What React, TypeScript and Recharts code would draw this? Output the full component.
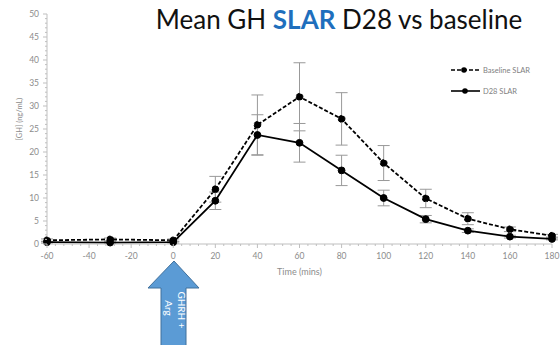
import { CartesianGrid, ErrorBar, Legend, Line, LineChart, XAxis, YAxis } from 'recharts';

const times = [-60, -30, 0, 20, 40, 60, 80, 100, 120, 140, 160, 180];
const baseline = [0.8, 1.0, 0.8, 11.9, 25.9, 32.0, 27.2, 17.6, 9.9, 5.5, 3.2, 1.8];
const baselineErr = [0.3, 0.3, 0.3, 2.8, 6.5, 7.4, 5.7, 3.8, 2.0, 1.3, 0.5, 0.3];
const d28 = [0.4, 0.3, 0.4, 9.4, 23.7, 22.0, 16.0, 10.0, 5.4, 2.9, 1.6, 1.1];
const d28Err = [0.2, 0.2, 0.2, 1.9, 4.4, 4.2, 3.3, 1.7, 0.8, 0.4, 0.3, 0.2];

const xMajor = [-60, -40, -20, 0, 20, 40, 60, 80, 100, 120, 140, 160, 180];
const yMajor = [0, 5, 10, 15, 20, 25, 30, 35, 40, 45, 50];

// minor ticks: 5 steps between x majors, 5 steps between y majors
const xTicks = xMajor.flatMap((v, i) => (i === 0 ? [v] : [1, 2, 3, 4, 5].map((k) => xMajor[i - 1] + k * 4)));
const yTicks = yMajor.flatMap((v, i) => (i === 0 ? [v] : [1, 2, 3, 4, 5].map((k) => yMajor[i - 1] + k)));

const data = times.map((t, i) => ({
  time: t,
  baseline: baseline[i],
  baselineErr: baselineErr[i],
  d28: d28[i],
  d28Err: d28Err[i],
}));

const AXIS = '#bfbfbf';
const TICK_TEXT = '#8c8c8c';
const FONT = 'Lato, "Open Sans", sans-serif';

const XTick = (props: any) => {
  const { x, y, payload } = props;
  const major = payload.value % 20 === 0;
  return (
    <g>
      <line x1={x} x2={x} y1={y} y2={y + (major ? 4 : 2)} stroke={AXIS} />
      {major && (
        <text x={x} y={y + 15} textAnchor="middle" fontSize={8.5} fill={TICK_TEXT} fontFamily={FONT}>
          {payload.value}
        </text>
      )}
    </g>
  );
};

const YTick = (props: any) => {
  const { x, y, payload } = props;
  const major = payload.value % 5 === 0;
  return (
    <g>
      <line x1={x - (major ? 4 : 2)} x2={x} y1={y} y2={y} stroke={AXIS} />
      {major && (
        <text x={x - 8} y={y + 3} textAnchor="end" fontSize={8.5} fill={TICK_TEXT} fontFamily={FONT}>
          {payload.value}
        </text>
      )}
    </g>
  );
};

const renderLegend = () => (
  <svg width={110} height={40}>
    <line x1={6} x2={35} y1={10} y2={10} stroke="#000" strokeWidth={1.6} strokeDasharray="4 2" />
    <circle cx={19} cy={10} r={2.8} fill="#000" />
    <text x={38} y={12.5} fontSize={7.5} fill="#7f7f7f" fontFamily={FONT}>Baseline SLAR</text>
    <line x1={6} x2={35} y1={31} y2={31} stroke="#000" strokeWidth={1.6} />
    <circle cx={20} cy={31} r={2.8} fill="#000" />
    <text x={38} y={33.5} fontSize={7.5} fill="#7f7f7f" fontFamily={FONT}>D28 SLAR</text>
  </svg>
);

export default function App() {
  return (
    <div style={{ position: 'absolute', left: 0, top: 0, width: 560, height: 345, background: '#fff', overflow: 'hidden' }}>
      <LineChart width={560} height={345} data={data} margin={{ top: 14, right: 8, bottom: 71, left: 0 }}>
        <CartesianGrid stroke="none" />
        <XAxis
          dataKey="time"
          type="number"
          domain={[-60, 180]}
          ticks={xTicks}
          interval={0}
          tickLine={false}
          tickSize={0}
          tickMargin={0}
          axisLine={{ stroke: AXIS }}
          tick={XTick}
          height={30}
          label={{ value: 'Time (mins)', position: 'insideBottom', offset: -1, fontSize: 9, fill: TICK_TEXT, fontFamily: FONT }}
        />
        <YAxis
          type="number"
          domain={[0, 50]}
          ticks={yTicks}
          interval={0}
          tickLine={false}
          tickSize={0}
          tickMargin={0}
          axisLine={{ stroke: AXIS }}
          tick={YTick}
          width={47}
        />
        <Legend
          layout="vertical"
          align="center"
          verticalAlign="middle"
          content={renderLegend}
          wrapperStyle={{ left: 445, top: 60, width: 110, height: 40 }}
        />
        <Line
          dataKey="baseline"
          stroke="#000"
          strokeWidth={1.8}
          strokeDasharray="4 2"
          dot={{ r: 3.4, fill: '#000', stroke: '#000', strokeWidth: 1 }}
          isAnimationActive={false}
        >
          <ErrorBar dataKey="baselineErr" width={6} stroke="#999" strokeWidth={1} direction="y" />
        </Line>
        <Line
          dataKey="d28"
          stroke="#000"
          strokeWidth={1.8}
          dot={{ r: 3.4, fill: '#000', stroke: '#000', strokeWidth: 1 }}
          isAnimationActive={false}
        >
          <ErrorBar dataKey="d28Err" width={6} stroke="#999" strokeWidth={1} direction="y" />
        </Line>
      </LineChart>
      <svg width={560} height={345} style={{ position: 'absolute', left: 0, top: 0, pointerEvents: 'none' }}>
        <text x={339} y={29} textAnchor="middle" fontSize={26} fontFamily={FONT} fill="#111">
          Mean GH <tspan fill="#1f6fbd" fontWeight="bold">SLAR</tspan> D28 vs baseline
        </text>
        <text
          transform="translate(22,119) rotate(-90)"
          textAnchor="middle"
          fontSize={7.5}
          fill={TICK_TEXT}
          fontFamily={FONT}
        >
          [GH] (ng/mL)
        </text>
        <polygon
          points="174,261 148,288 161,288 161,346 186,346 186,288 199,288"
          fill="#5b9bd5"
          stroke="#41719c"
          strokeWidth={1}
        />
        <g fontSize={10} fill="#fff" fontFamily={FONT} textAnchor="middle">
          <text transform="translate(178,310) rotate(90)">GHRH +</text>
          <text transform="translate(164.5,308) rotate(90)">Arg</text>
        </g>
      </svg>
    </div>
  );
}
